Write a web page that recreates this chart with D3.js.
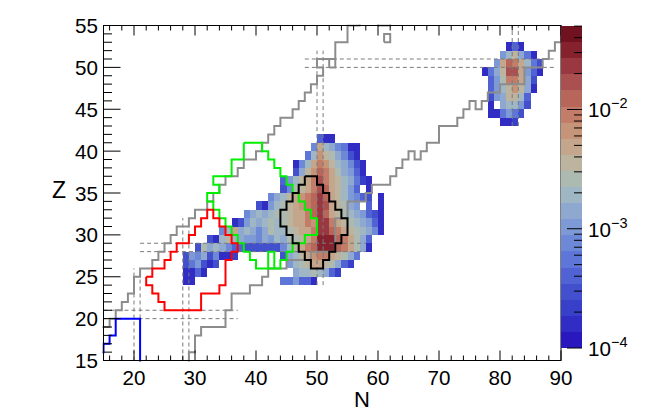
<!DOCTYPE html>
<html>
<head>
<meta charset="utf-8">
<script src="https://cdn.jsdelivr.net/npm/d3@7"></script>
<style>
  body { margin: 0; background: #fff; }
  text { font-family: "Liberation Sans", Arial, sans-serif; fill: #000; }
</style>
</head>
<body>
<svg id="chart" width="655" height="412"></svg>
<script>
// Yield map on the nuclide chart (N, Z), log colour scale.
// Cells: [Z, first N, log10(yield) for N, N+1, ...]; null = empty cell.

var nRange = [15, 90],
    zRange = [15, 55];
var logRange = [-4, -1.3];   // colour axis, 10^-4 .. 10^-1.3

var cellRows = [
  // light cluster around N = 50
  [41, 50, [-3.39, -3.8, -3.8]],
  [40, 49, [-3.12, -2.31, -2.72, -2.9, -3.12, -3.3, -3.8, -3.8]],
  [39, 48, [-3.3, -2.72, -2.18, -2.45, -2.65, -2.9, -3.12, -3.53, -3.8]],
  [38, 46, [-3.8, -3.12, -2.72, -2.31, -2.0, -2.18, -2.45, -2.72, -2.9, -3.12, -3.53, -3.8]],
  [37, 46, [-3.53, -2.9, -2.5, -2.18, -1.85, -2.05, -2.35, -2.6, -2.85, -3.0, -3.4, -3.8]],
  [36, 44, [-3.4, -3.0, -2.72, -2.5, -2.3, -2.05, -1.77, -2.0, -2.3, -2.5, -2.72, -2.9, -3.3, -3.6, -3.85]],
  [35, 44, [-3.53, -3.12, -2.6, -2.45, -2.25, -2.0, -1.72, -1.95, -2.25, -2.45, -2.7, -2.95, -3.35, null, -3.85]],
  [34, 42, [-3.12, -2.9, -2.72, -2.45, -2.3, -2.2, -2.0, -1.95, -1.7, -1.85, -2.25, -2.45, -2.72, -2.95, -3.12, -3.4, -3.5, null, -3.8]],
  [33, 40, [-3.53, -3.8, -2.95, -2.72, -2.6, -2.45, -2.3, -2.2, -2.05, -1.95, -1.7, -1.8, -2.25, -2.45, -2.6, -2.85, -3.05, null, -3.4, null, -3.8]],
  [32, 38, [-3.12, -2.9, -2.72, -2.9, -2.72, -2.6, -2.58, -2.45, -2.3, -2.25, -2.05, -1.95, -1.7, -1.95, -2.25, -2.45, -2.6, -2.72, -2.9, -3.0, -3.4, -3.5, -3.8]],
  [31, 36, [-3.8, -3.53, -3.05, -2.72, -2.9, -2.72, -2.6, -2.72, -2.58, -2.45, -2.3, -2.25, -2.05, -2.2, -1.7, -1.7, -2.0, -2.25, -2.45, -2.58, -2.72, -2.9, -3.05, -3.4, -3.8]],
  [30, 34, [-3.12, -2.72, -2.35, -2.9, -2.72, -2.9, -3.12, -2.9, -2.6, -2.72, -2.72, -2.58, -2.45, -2.3, -2.3, -2.0, -1.7, -1.65, -1.85, -2.0, -2.25, -2.45, -2.6, -2.72, -2.9, -3.12, -3.8]],
  [29, 32, [-3.53, -3.8, -2.72, -2.45, -2.72, -2.9, -3.0, -3.0, -3.12, -2.9, -3.0, -2.72, -2.9, -2.6, -2.58, -2.45, -2.3, -2.0, -1.55, -1.5, -1.55, -1.85, -2.0, -2.3, -2.6, -2.9, -3.4]],
  [28, 30, [-3.53, -2.6, -2.9, -2.72, -2.9, -3.12, -3.35, -3.45, -3.53, -3.53, -3.53, -3.53, -3.53, -3.53, -3.12, -2.72, -2.45, -2.3, -2.0, -1.85, -1.5, -1.45, -1.5, -1.85, -2.0, -2.3, -2.6, -2.9, -3.8]],
  [27, 28, [-3.53, -2.95, -3.12, -2.9, -3.53, -3.12, -3.8, -3.8, -3.6]],
  [27, 44, [-3.53, -2.9, -2.72, -2.45, -2.3, -2.15, -2.0, -2.05, -2.3, -2.45, -2.6, -2.9, -3.3]],
  [26, 28, [-3.53, -3.2, -2.95, -3.53, -3.8, -3.5]],
  [26, 45, [-2.95, -2.72, -2.6, -2.45, -2.3, -2.3, -2.45, -2.6, -2.9, -3.4, -3.6]],
  [25, 28, [-3.8, -3.8, -3.4, -3.8]],
  [25, 46, [-2.9, -2.72, -2.72, -2.6, -2.72, -2.9, -3.4, -3.6]],
  [24, 28, [-3.85, -3.85]],
  [24, 44, [-3.3, -3.3, -2.95, -3.4, -3.4, -3.8]],
  // heavy cluster around N = 82
  [52, 81, [-3.8, -3.4, -3.8]],
  [51, 80, [-3.0, -2.72, -2.5, -2.9, -3.3, -3.8]],
  [50, 79, [-2.95, -2.3, -1.85, -2.0, -2.3, -2.72, -3.2, -3.53]],
  [49, 77, [-3.8, -3.3, -2.9, -2.45, -1.75, -1.8, -2.3, -2.95, -3.4, -3.8]],
  [48, 78, [-3.4, -3.0, -2.6, -2.05, -2.0, -2.3, -2.9, -3.53]],
  [47, 78, [-3.4, -3.0, -2.72, -2.4, -2.15, -2.45, -2.9, -3.8]],
  [46, 78, [-3.53, -3.0, -2.85, -2.45, -2.4, -2.72, -3.4]],
  [45, 78, [-3.8, null, -2.9, -2.72, -2.72, -2.95, -3.53]],
  [44, 78, [-3.8, -3.8, -3.3, -2.95, -3.2, -3.53]],
  [43, 80, [-3.8, -3.8, -3.7]]
];

// 20 palette bands, lowest to highest
var palette = ["#2818be", "#302cc4", "#3840ca", "#4250ce", "#5062d4", "#5e76d8", "#6e88d8",
  "#7e9ad6", "#8ea8d0", "#9fb6c4", "#adbab2", "#bcb49e", "#c4a68c", "#c69478", "#c27c68",
  "#b9665a", "#ab5050", "#9a3842", "#85222e", "#70121f"];

// Grey limit lines, vertices as [N, Z]
var protonLine = [[14,19],[16,19],[16,20],[17,20],[17,21],[18,21],[18,22],[19,22],[19,23],[20,23],[20,25],[21,25],
  [21,26],[23,26],[23,27],[24,27],[24,28],[25,28],[25,29],[26,29],[26,30],[27,30],[27,31],[29,31],[29,32],[30,32],
  [30,33],[32,33],[32,34],[33,34],[33,35],[34,35],[34,36],[35,36],[35,37],[37,37],[37,38],[38,38],[38,39],[40,39],
  [40,40],[41,40],[41,41],[42,41],[42,42],[43,42],[43,43],[44,43],[44,44],[46,44],[46,45],[47,45],[47,46],[48,46],
  [48,47],[49,47],[49,48],[50,48],[50,49],[51,49],[51,50],[50,50],[50,51],[53,51],[53,53],[55,53],[55,55],[57,55],[57,57]];
var protonTop = [[60,57],[60,55],[62,55],[62,57]];
var neutronLine = [[29,14],[29,16],[30,16],[30,18],[31,18],[31,19],[35,19],[35,21],[36,21],[36,23],[39,23],[39,24],
  [41,24],[41,25],[42,25],[42,26],[45,26],[45,27],[49,27],[49,28],[53,28],[53,32],[55,32],[55,34],[58,34],[58,35],
  [59,35],[59,36],[62,36],[62,37],[63,37],[63,38],[64,38],[64,39],[65,39],[65,40],[66,40],[66,39],[67,39],[67,40],
  [68,40],[68,41],[70,41],[70,43],[73,43],[73,44],[74,44],[74,45],[75,45],[75,46],[76,46],[76,45],[77,45],[77,46],
  [78,46],[78,47],[80,47],[80,48],[84,48],[84,50],[87,50],[87,51],[88,51],[88,52],[89,52],[89,53],[90,53],[90,55]];
var boundIslands = [[52, 50], [61, 53]];   // single bound cells beyond the line

// Contours of selected nuclide sets
var greenContour = [[38,41],[41,41],[41,40],[42,40],[42,39],[43,39],[43,38],[44,38],[44,37],[45,37],[45,36],[46,36],
  [46,35],[47,35],[47,34],[48,34],[48,33],[49,33],[49,32],[50,32],[50,30],[48,30],[48,29],[46,29],[46,28],[45,28],
  [45,27],[44,27],[44,26],[40,26],[40,27],[39,27],[39,28],[38,28],[38,29],[37,29],[37,30],[36,30],[36,31],[35,31],
  [35,32],[34,32],[34,33],[33,33],[33,34],[32,34],[32,35],[34,35],[34,36],[33,36],[33,37],[36,37],[36,39],[38,39],[38,41]];
var greenHole = [[42,26],[42,28],[43,28],[43,26]];
var redContour = [[22,25],[22,24],[23,24],[23,23],[24,23],[24,22],[25,22],[25,21],[31,21],[31,23],[34,23],[34,24],
  [35,24],[35,27],[36,27],[36,28],[37,28],[37,29],[36,29],[36,30],[35,30],[35,31],[34,31],[34,32],[33,32],[33,33],
  [32,33],[32,32],[31,32],[31,31],[30,31],[30,30],[29,30],[29,29],[27,29],[27,28],[26,28],[26,27],[25,27],[25,26],
  [23,26],[23,25],[22,25]];
var blackContour = [[48,37],[50,37],[50,36],[51,36],[51,35],[52,35],[52,34],[53,34],[53,33],[54,33],[54,32],[55,32],
  [55,30],[54,30],[54,29],[53,29],[53,28],[52,28],[52,27],[51,27],[51,26],[49,26],[49,27],[48,27],[48,28],[47,28],
  [47,29],[46,29],[46,30],[45,30],[45,31],[44,31],[44,33],[45,33],[45,34],[46,34],[46,35],[47,35],[47,36],[48,36],[48,37]];
var blueContour = [[21,14],[21,20],[17,20],[17,18],[16,18],[16,17],[15,17],[15,16],[14,16]];

// Magic numbers: pairs of dashed lines bracketing N or Z = magic
var magicN = [[20, 15, 26], [28, 15, 32], [50, 24, 52], [82, 43, 55]];   // [N, Zfrom, Zto]
var magicZ = [[20, 15, 37], [28, 21, 58], [50, 48, 89]];                 // [Z, Nfrom, Nto]

var xTickLabels = [20, 30, 40, 50, 60, 70, 80, 90];
var yTickLabels = [15, 20, 25, 30, 35, 40, 45, 50, 55];

var svg = d3.select("#chart");
var x = d3.scaleLinear().domain(nRange).range([103.5, 561]);
var y = d3.scaleLinear().domain(zRange).range([360.5, 25.5]);
var colour = d3.scaleQuantize().domain(logRange).range(palette);

svg.append("defs").append("clipPath").attr("id", "frameClip")
  .append("rect")
    .attr("x", x(nRange[0]) - 1).attr("y", y(zRange[1]) - 1)
    .attr("width", x(nRange[1]) - x(nRange[0]) + 2)
    .attr("height", y(zRange[0]) - y(zRange[1]) + 2);

var plot = svg.append("g").attr("clip-path", "url(#frameClip)");

// cells
var cells = [];
cellRows.forEach(function(r) {
  r[2].forEach(function(v, i) {
    if (v !== null) cells.push({ z: r[0], n: r[1] + i, v: v });
  });
});
plot.append("g").selectAll("rect")
  .data(cells)
  .enter().append("rect")
    .attr("x", function(d) { return x(d.n); })
    .attr("y", function(d) { return y(d.z + 1); })
    .attr("width", function(d) { return x(d.n + 1) - x(d.n); })
    .attr("height", function(d) { return y(d.z) - y(d.z + 1); })
    .attr("shape-rendering", "crispEdges")
    .style("fill", function(d) { return colour(d.v); });

// magic-number dashed lines
var dashed = plot.append("g")
  .style("stroke", "#7a7a7a").style("stroke-width", 1).style("stroke-dasharray", "4,3").style("fill", "none");
magicN.forEach(function(m) {
  [m[0], m[0] + 1].forEach(function(n) {
    dashed.append("line").attr("x1", x(n)).attr("x2", x(n)).attr("y1", y(m[1])).attr("y2", y(m[2]));
  });
});
magicZ.forEach(function(m) {
  [m[0], m[0] + 1].forEach(function(z) {
    dashed.append("line").attr("y1", y(z)).attr("y2", y(z)).attr("x1", x(m[1])).attr("x2", x(m[2]));
  });
});

var line = d3.line().x(function(d) { return x(d[0]); }).y(function(d) { return y(d[1]); });

function drawPath(pts, col, w) {
  plot.append("path").attr("d", line(pts))
    .style("fill", "none").style("stroke", col).style("stroke-width", w)
    .style("stroke-linejoin", "miter");
}

drawPath(protonLine, "#8c8c8c", 2);
drawPath(protonTop, "#8c8c8c", 2);
drawPath(neutronLine, "#8c8c8c", 2);
boundIslands.forEach(function(c) {
  drawPath([[c[0], c[1]], [c[0] + 1, c[1]], [c[0] + 1, c[1] + 1], [c[0], c[1] + 1], [c[0], c[1]]], "#8c8c8c", 2);
});
drawPath(greenContour, "#00ee00", 2);
drawPath(greenHole, "#00ee00", 2);
drawPath(redContour, "#ff0000", 2);
drawPath(blackContour, "#000000", 2);
drawPath(blueContour, "#0000ff", 2);

// frame
svg.append("rect")
  .attr("x", x(nRange[0])).attr("y", y(zRange[1]))
  .attr("width", x(nRange[1]) - x(nRange[0])).attr("height", y(zRange[0]) - y(zRange[1]))
  .style("fill", "none").style("stroke", "#000").style("stroke-width", 1);

// ticks on all four sides, pointing inward
var ticks = svg.append("g").style("stroke", "#000").style("stroke-width", 1);
d3.range(16, 91, 2).forEach(function(n) {
  var len = (n % 10 === 0) ? 10 : 5;
  ticks.append("line").attr("x1", x(n)).attr("x2", x(n)).attr("y1", y(15)).attr("y2", y(15) - len);
  ticks.append("line").attr("x1", x(n)).attr("x2", x(n)).attr("y1", y(55)).attr("y2", y(55) + len);
});
d3.range(16, 55, 1).forEach(function(z) {
  var len = (z % 5 === 0) ? 17 : 8.5;
  ticks.append("line").attr("y1", y(z)).attr("y2", y(z)).attr("x1", x(15)).attr("x2", x(15) + len);
});

svg.append("g").selectAll("text")
  .data(xTickLabels)
  .enter().append("text")
    .attr("x", function(d) { return x(d); })
    .attr("y", 385)
    .attr("text-anchor", "middle")
    .style("font-size", "20.6px")
    .text(function(d) { return d; });

svg.append("g").selectAll("text")
  .data(yTickLabels)
  .enter().append("text")
    .attr("x", 98)
    .attr("y", function(d) { return y(d) + 7.5; })
    .attr("text-anchor", "end")
    .style("font-size", "20.6px")
    .text(function(d) { return d; });

svg.append("text").attr("x", 362).attr("y", 407).attr("text-anchor", "middle")
  .style("font-size", "22px").text("N");
svg.append("text").attr("x", 59).attr("y", 198).attr("text-anchor", "middle")
  .style("font-size", "23px").text("Z");

// colour bar
var barX = 561, barW = 21;
var cbar = d3.scaleLog().domain([1e-4, Math.pow(10, logRange[1])]).range([348, 26]);
var bandStep = (logRange[1] - logRange[0]) / palette.length;
svg.append("g").selectAll("rect")
  .data(palette)
  .enter().append("rect")
    .attr("x", barX)
    .attr("y", function(d, i) { return cbar(Math.pow(10, logRange[0] + (i + 1) * bandStep)); })
    .attr("width", barW)
    .attr("height", function(d, i) {
      return cbar(Math.pow(10, logRange[0] + i * bandStep)) - cbar(Math.pow(10, logRange[0] + (i + 1) * bandStep));
    })
    .attr("shape-rendering", "crispEdges")
    .style("fill", function(d) { return d; });

var cTicks = cbar.ticks();
svg.append("g").selectAll("line")
  .data(cTicks)
  .enter().append("line")
    .attr("x1", barX + barW)
    .attr("x2", function(d) { return barX + barW - (Math.abs(Math.log10(d) % 1) < 1e-6 ? 15 : 8); })
    .attr("y1", function(d) { return cbar(d); })
    .attr("y2", function(d) { return cbar(d); })
    .style("stroke", "#000").style("stroke-width", 1);

var decades = [-4, -3, -2];
var lab = svg.append("g").selectAll("text")
  .data(decades)
  .enter().append("text")
    .attr("x", 588)
    .attr("y", function(d) { return cbar(Math.pow(10, d)) + 8; })
    .style("font-size", "20.6px");
lab.append("tspan").text("10");
lab.append("tspan").attr("dy", -9).style("font-size", "14.5px").text(function(d) { return "\u2212" + (-d); });
</script>
</body>
</html>
